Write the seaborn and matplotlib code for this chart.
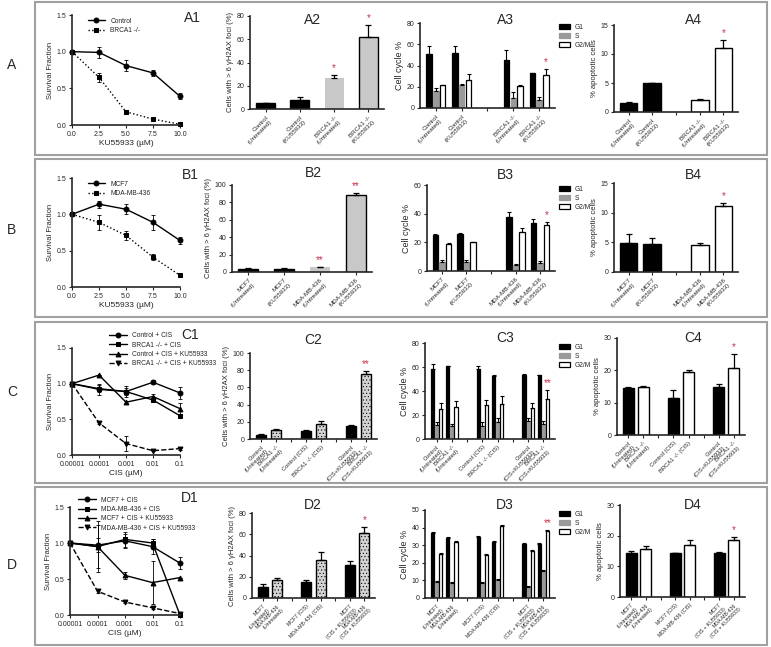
import numpy as np
import pandas as pd
import seaborn as sns
import matplotlib.pyplot as plt
from matplotlib.patches import Rectangle, Patch

sns.set_style('ticks')
plt.rcParams['font.family'] = ['Liberation Sans', 'DejaVu Sans']
plt.rcParams['hatch.linewidth'] = 0.4

# ---------------- data ----------------
ku_dose = [0, 2.5, 5, 7.5, 10]
cis_dose = [0.00001, 0.0001, 0.001, 0.01, 0.1]

a1_control = [1.0, 0.99, 0.81, 0.71, 0.39]
a1_control_err = [0, 0.07, 0.08, 0.04, 0.04]
a1_brca = [1.0, 0.65, 0.18, 0.08, 0.01]
a1_brca_err = [0, 0.06, 0.02, 0.01, 0.01]

b1_mcf7 = [1.0, 1.14, 1.07, 0.89, 0.64]
b1_mcf7_err = [0, 0.05, 0.07, 0.10, 0.05]
b1_mda = [1.0, 0.89, 0.71, 0.41, 0.16]
b1_mda_err = [0, 0.10, 0.06, 0.04, 0.01]

c1_labels = ['Control + CIS', 'BRCA1 -/- + CIS', 'Control + CIS + KU55933', 'BRCA1 -/- + CIS + KU55933']
c1_values = [[1.0, 0.92, 0.89, 1.02, 0.87],
             [1.0, 0.93, 0.89, 0.77, 0.55],
             [1.0, 1.12, 0.74, 0.82, 0.65],
             [1.0, 0.45, 0.16, 0.06, 0.09]]
c1_errs = [[0, 0.08, 0.08, 0.03, 0.09],
           [0, 0.05, 0.05, 0.03, 0.02],
           [0, 0.00, 0.02, 0.04, 0.08],
           [0, 0.02, 0.10, 0.01, 0.02]]

d1_labels = ['MCF7 + CIS', 'MDA-MB-436 + CIS', 'MCF7 + CIS + KU55933', 'MDA-MB-436 + CIS + KU55933']
d1_values = [[1.0, 0.97, 1.03, 0.95, 0.72],
             [1.0, 0.95, 1.05, 1.00, 0.00],
             [1.0, 0.95, 0.55, 0.45, 0.52],
             [1.0, 0.33, 0.18, 0.10, 0.02]]
d1_errs = [[0, 0.10, 0.10, 0.10, 0.08],
           [0, 0.35, 0.10, 0.05, 0.00],
           [0, 0.30, 0.05, 0.30, 0.00],
           [0, 0.03, 0.02, 0.02, 0.01]]

a_cats = ['Control\n(Untreated)', 'Control\n(KU55933)', 'BRCA1 -/-\n(Untreated)', 'BRCA1 -/-\n(KU55933)']
b_cats = ['MCF7\n(Untreated)', 'MCF7\n(KU55933)', 'MDA-MB-436\n(Untreated)', 'MDA-MB-436\n(KU55933)']
c_cats = ['Control\n(Untreated)', 'BRCA1 -/-\n(Untreated)', 'Control (CIS)', 'BRCA1 -/- (CIS)',
          'Control\n(CIS+KU55933)', 'BRCA1 -/-\n(CIS+KU55933)']
d_cats = ['MCF7\n(Untreated)', 'MDA-MB-436\n(Untreated)', 'MCF7 (CIS)', 'MDA-MB-436 (CIS)',
          'MCF7\n(CIS + KU55933)', 'MDA-MB-436\n(CIS + KU55933)']

a2_vals = [5, 7.5, 27, 62]
a2_errs = [0.5, 3, 2.5, 10]
b2_vals = [4, 4, 5.5, 88]
b2_errs = [0.5, 1, 0.5, 3]
c2_vals = [5, 11, 9.5, 18, 15, 76]
c2_errs = [1, 1, 1.5, 3, 1, 3]
d2_vals = [10, 17, 15, 36, 31, 61]
d2_errs = [3, 2, 2, 7, 4, 6]

phases = ['G1', 'S', 'G2/M']
a3_g1 = [51, 52, 45.5, 32.5]
a3_s = [16, 22, 9.5, 7.5]
a3_g2m = [22, 26.5, 20.5, 31.5]
a3_g1_err = [7, 6, 9, 0.5]
a3_s_err = [2.5, 1, 5.5, 2.5]
a3_g2m_err = [0, 5.5, 1, 5]

b3_g1 = [25, 25.5, 38, 33.5]
b3_s = [6, 6.5, 4.5, 5.5]
b3_g2m = [19, 20, 27.5, 32]
b3_g1_err = [0.5, 1, 3, 2.5]
b3_s_err = [1.5, 1, 0.5, 1.5]
b3_g2m_err = [0.5, 0, 2.5, 2.5]

c3_g1 = [58.5, 60.5, 58.5, 52.5, 53, 53.5]
c3_s = [11.5, 10.5, 10.5, 14.5, 15, 12.5]
c3_g2m = [25, 26.5, 28, 29.5, 25.5, 33]
c3_g1_err = [4, 0, 2.5, 1, 1, 0]
c3_s_err = [3, 2, 3.5, 3, 2.5, 2.5]
c3_g2m_err = [5, 5, 4.5, 6.5, 4.5, 8]

d3_g1 = [37, 34, 34.5, 32, 30.5, 30.5]
d3_s = [9, 8.5, 8.5, 10.5, 6.5, 15.5]
d3_g2m = [25, 32, 24.5, 41, 26.5, 38]
d3_g1_err = [0.5, 0.5, 0.5, 0.5, 0.5, 0.5]
d3_s_err = [0.5, 0.5, 0.5, 0.5, 0.5, 0.5]
d3_g2m_err = [0.5, 0.5, 0.5, 0.5, 0.5, 0.5]

a4_vals = [1.5, 5, 2, 11]
a4_errs = [0.3, 0, 0.3, 1.5]
b4_vals = [4.9, 4.8, 4.6, 11.1]
b4_errs = [1.5, 1, 0.3, 0.5]
c4_vals = [14.5, 14.7, 11.5, 19.5, 14.7, 20.7]
c4_errs = [0.3, 0.4, 2.5, 0.5, 1, 4.2]
d4_vals = [14.5, 15.5, 14.3, 17, 14.5, 18.7]
d4_errs = [0.5, 1, 0, 1.5, 0.3, 1]

STAR = '#c8324a'
W, H = 771, 647
fig = plt.figure(figsize=(W / 100, H / 100), dpi=100)


def axes_px(x0, y0, x1, y1):
    return fig.add_axes([x0 / W, 1 - y1 / H, (x1 - x0) / W, (y1 - y0) / H])


def style_axes(ax, ylim, yticks, ylabel):
    sns.despine(ax=ax)
    for s in ['left', 'bottom']:
        ax.spines[s].set_linewidth(1.2)
    ax.set_ylim(*ylim)
    ax.set_yticks(yticks)
    ax.tick_params(axis='both', length=2.5, width=0.8, labelsize=5, pad=1.5)
    ax.set_ylabel(ylabel, fontsize=5.5, labelpad=2)


def cat_ticks(ax, order, fs):
    ax.set_xticks(range(len(order)))
    ax.set_xticklabels(order, rotation=45, ha='right', rotation_mode='anchor', fontsize=fs)
    ax.set_xlabel('')


def survival(box, x, values, errs, names, markers, styles, xlabel, legend_anchor, log=False):
    ax = axes_px(*box)
    if log:
        ax.set_xscale('log')
    for y, e, n, m, ls in zip(values, errs, names, markers, styles):
        sns.lineplot(x=x, y=y, ax=ax, color='black', marker=m, markersize=3.5, lw=1,
                     linestyle=ls, label=n, markeredgecolor='black', clip_on=False)
        ax.errorbar(x, y, yerr=e, fmt='none', ecolor='black', elinewidth=0.6,
                    capsize=1.5, capthick=0.6, clip_on=False)
    style_axes(ax, (0, 1.5), [0, 0.5, 1.0, 1.5], 'Survival Fraction')
    ax.set_yticklabels(['0.0', '0.5', '1.0', '1.5'])
    if log:
        ax.set_xlim(x[0], x[-1])
        ax.set_xticks(x)
        ax.set_xticklabels(['0.00001', '0.0001', '0.001', '0.01', '0.1'])
        ax.minorticks_off()
    else:
        ax.set_xlim(0, 10)
        ax.set_xticks(x)
        ax.set_xticklabels(['0.0', '2.5', '5.0', '7.5', '10.0'])
    ax.set_xlabel(xlabel, fontsize=6, labelpad=2)
    ax.legend(loc='upper left', bbox_to_anchor=legend_anchor, frameon=False, fontsize=4.8,
              handlelength=2.6, labelspacing=0.35, borderaxespad=0)
    return ax


def single_bars(box, cats, order, vals, errs, colors, edges, hatches, ylim, yticks, ylabel, stars, width, fs=4.5):
    ax = axes_px(*box)
    df = pd.DataFrame({'cat': cats, 'val': vals, 'err': errs})
    sns.barplot(data=df, x='cat', y='val', order=order, hue='cat', hue_order=cats,
                palette=dict(zip(cats, colors)), legend=False, errorbar=None,
                width=width, dodge=False, ax=ax)
    for cont, c, ec, h, e, st in zip(ax.containers, cats, edges, hatches, errs, stars):
        for p in cont.patches:
            p.set_edgecolor(ec)
            p.set_linewidth(1.0 if ec != 'none' else 0)
            if h:
                p.set_hatch(h)
            cx = p.get_x() + p.get_width() / 2
            top = p.get_height()
            ax.errorbar([cx], [top], yerr=[[0], [e]], fmt='none', ecolor='black',
                        elinewidth=0.9, capsize=2.5, capthick=0.9)
            if st:
                ax.text(cx, top + e + (ylim[1] - ylim[0]) * 0.02, st, color=STAR,
                        ha='center', va='bottom', fontsize=7)
    style_axes(ax, ylim, yticks, ylabel)
    cat_ticks(ax, order, fs)
    return ax


def cycle_bars(box, cats, order, g1, s, g2m, g1e, se, g2me, ylim, yticks, star, fs=4.5):
    ax = axes_px(*box)
    df = pd.DataFrame({
        'cat': cats * 3,
        'phase': ['G1'] * len(cats) + ['S'] * len(cats) + ['G2/M'] * len(cats),
        'val': g1 + s + g2m,
        'err': g1e + se + g2me,
    })
    pal = {'G1': 'black', 'S': '#9a9a9a', 'G2/M': 'white'}
    edge = {'G1': 'black', 'S': '#9a9a9a', 'G2/M': 'black'}
    sns.barplot(data=df, x='cat', y='val', hue='phase', order=order, hue_order=phases,
                palette=pal, errorbar=None, width=0.8, gap=0.2, legend=False, ax=ax)
    lookup = df.set_index(['cat', 'phase'])['err']
    for cont, ph in zip(ax.containers, phases):
        for p in cont.patches:
            cx = p.get_x() + p.get_width() / 2
            cat = order[int(round(cx))]
            p.set_edgecolor(edge[ph])
            p.set_linewidth(0.9)
            e = lookup[(cat, ph)]
            ax.errorbar([cx], [p.get_height()], yerr=[[0], [e]], fmt='none', ecolor='black',
                        elinewidth=0.8, capsize=1.5, capthick=0.8)
            if ph == 'G2/M' and cat == cats[-1]:
                ax.text(cx, p.get_height() + e + (ylim[1] - ylim[0]) * 0.02, star, color=STAR,
                        ha='center', va='bottom', fontsize=7)
    style_axes(ax, ylim, yticks, 'Cell cycle %')
    ax.yaxis.label.set_fontsize(6.5)
    cat_ticks(ax, order, fs)
    handles = [Patch(facecolor=pal[p], edgecolor=edge[p], linewidth=0.9) for p in phases]
    ax.legend(handles, phases, loc='upper left', bbox_to_anchor=(1.01, 1.02), frameon=False,
              fontsize=4.8, handlelength=1.6, handleheight=0.7, labelspacing=0.3, borderaxespad=0)
    return ax


# ---------------- row frames and labels ----------------
for y0, y1 in [(2, 155), (159, 317), (322, 483), (487, 645)]:
    fig.add_artist(Rectangle((35 / W, 1 - y1 / H), 732 / W, (y1 - y0) / H, transform=fig.transFigure,
                             fill=False, edgecolor='#a0a0a0', linewidth=1.5))
for lab, y in [('A', 65), ('B', 230), ('C', 392), ('D', 565)]:
    fig.text(12 / W, 1 - y / H, lab, fontsize=10, ha='center', va='center')

titles = {'A1': (192, 18), 'A2': (313, 20), 'A3': (505, 20), 'A4': (693, 20),
          'B1': (190, 175), 'B2': (313, 173), 'B3': (505, 175), 'B4': (693, 175),
          'C1': (190, 335), 'C2': (313, 340), 'C3': (505, 338), 'C4': (693, 338),
          'D1': (190, 498), 'D2': (313, 505), 'D3': (505, 505), 'D4': (693, 505)}
for t, (x, y) in titles.items():
    fig.text(x / W, 1 - y / H, t, fontsize=10, ha='center', va='center')

# ---------------- row A ----------------
survival((72, 15, 180, 125), ku_dose, [a1_control, a1_brca], [a1_control_err, a1_brca_err],
         ['Control', 'BRCA1 -/-'], ['o', 's'], ['-', ':'], 'KU55933 (µM)', (0.12, 1.0))
single_bars((250, 16, 384, 109), a_cats, a_cats, a2_vals, a2_errs,
            ['black', 'black', '#c8c8c8', '#c8c8c8'], ['black', 'black', 'none', 'black'],
            [None] * 4, (0, 80), [0, 20, 40, 60, 80], 'Cells with > 6 γH2AX foci (%)',
            [None, None, '*', '*'], 0.55)
cycle_bars((420, 23, 555, 108), a_cats, a_cats[:2] + [''] + a_cats[2:],
           a3_g1, a3_s, a3_g2m, a3_g1_err, a3_s_err, a3_g2m_err, (0, 80), [0, 20, 40, 60, 80], '*')
single_bars((614, 25, 738, 112), a_cats, a_cats[:2] + [''] + a_cats[2:], a4_vals, a4_errs,
            ['black', 'black', 'white', 'white'], ['black'] * 4, [None] * 4,
            (0, 15), [0, 5, 10, 15], '% apoptotic cells', [None, None, None, '*'], 0.75)

# ---------------- row B ----------------
survival((72, 178, 180, 287), ku_dose, [b1_mcf7, b1_mda], [b1_mcf7_err, b1_mda_err],
         ['MCF7', 'MDA-MB-436'], ['o', 's'], ['-', ':'], 'KU55933 (µM)', (0.12, 1.0))
single_bars((232, 185, 372, 272), b_cats, b_cats, b2_vals, b2_errs,
            ['black', 'black', '#c8c8c8', '#c8c8c8'], ['black', 'black', 'none', 'black'],
            [None] * 4, (0, 100), [0, 20, 40, 60, 80, 100], 'Cells with > 6 γH2AX foci (%)',
            [None, None, '**', '**'], 0.55)
cycle_bars((427, 185, 555, 271), b_cats, b_cats[:2] + [''] + b_cats[2:],
           b3_g1, b3_s, b3_g2m, b3_g1_err, b3_s_err, b3_g2m_err, (0, 60), [0, 20, 40, 60], '*')
single_bars((614, 183, 738, 272), b_cats, b_cats[:2] + [''] + b_cats[2:], b4_vals, b4_errs,
            ['black', 'black', 'white', 'white'], ['black'] * 4, [None] * 4,
            (0, 15), [0, 5, 10, 15], '% apoptotic cells', [None, None, None, '*'], 0.75)

# ---------------- row C ----------------
survival((72, 348, 180, 455), cis_dose, c1_values, c1_errs, c1_labels,
         ['o', 's', '^', 'v'], ['-', '-', '-', '--'], 'CIS (µM)', (0.32, 1.17), log=True)
c_order = c_cats[:2] + [''] + c_cats[2:4] + [' '] + c_cats[4:]
single_bars((250, 353, 377, 439), c_cats, c_order, c2_vals, c2_errs,
            ['black', '#d4d4d4'] * 3, ['black'] * 6, [None, '.....'] * 3,
            (0, 100), [0, 20, 40, 60, 80, 100], 'Cells with > 6 γH2AX foci (%)',
            [None] * 5 + ['**'], 0.7, fs=4.2)
cycle_bars((425, 343, 555, 439), c_cats, c_order,
           c3_g1, c3_s, c3_g2m, c3_g1_err, c3_s_err, c3_g2m_err, (0, 80), [0, 20, 40, 60, 80], '**', fs=4.2)
single_bars((617, 338, 745, 435), c_cats, c_order, c4_vals, c4_errs,
            ['black', 'white'] * 3, ['black'] * 6, [None] * 6,
            (0, 30), [0, 10, 20, 30], '% apoptotic cells', [None] * 5 + ['*'], 0.75, fs=4.2)

# ---------------- row D ----------------
survival((70, 507, 180, 615), cis_dose, d1_values, d1_errs, d1_labels,
         ['o', 's', '^', 'v'], ['-', '-', '-', '--'], 'CIS (µM)', (0.05, 1.12), log=True)
d_order = d_cats[:2] + [''] + d_cats[2:4] + [' '] + d_cats[4:]
single_bars((252, 513, 375, 598), d_cats, d_order, d2_vals, d2_errs,
            ['black', '#d4d4d4'] * 3, ['black'] * 6, [None, '.....'] * 3,
            (0, 80), [0, 20, 40, 60, 80], 'Cells with > 6 γH2AX foci (%)',
            [None] * 5 + ['*'], 0.7, fs=3.8)
cycle_bars((425, 510, 555, 598), d_cats, d_order,
           d3_g1, d3_s, d3_g2m, d3_g1_err, d3_s_err, d3_g2m_err, (0, 50), [0, 10, 20, 30, 40, 50], '**', fs=3.8)
single_bars((620, 505, 745, 597), d_cats, d_order, d4_vals, d4_errs,
            ['black', 'white'] * 3, ['black'] * 6, [None] * 6,
            (0, 30), [0, 10, 20, 30], '% apoptotic cells', [None] * 5 + ['*'], 0.75, fs=3.8)

fig.savefig('out.png', dpi=100)
